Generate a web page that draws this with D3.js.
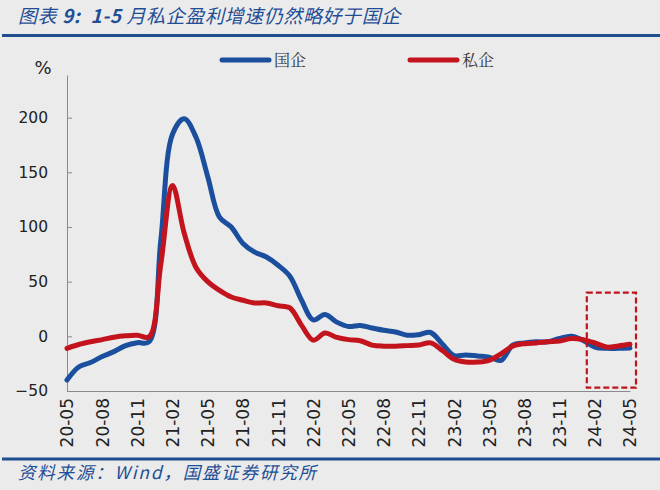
<!DOCTYPE html>
<html><head><meta charset="utf-8">
<script src="https://cdn.jsdelivr.net/npm/d3@7"></script>
<style>
html,body{margin:0;padding:0;background:#ebebeb;}
svg{display:block;}
text{white-space:pre;}
</style></head>
<body><svg id="c" width="660" height="490"></svg>
<script>
const months = ["20-05","20-06","20-07","20-08","20-09","20-10","20-11","20-12",
"21-01","21-02","21-03","21-04","21-05","21-06","21-07","21-08","21-09","21-10","21-11","21-12",
"22-01","22-02","22-03","22-04","22-05","22-06","22-07","22-08","22-09","22-10","22-11","22-12",
"23-01","23-02","23-03","23-04","23-05","23-06","23-07","23-08","23-09","23-10","23-11","23-12",
"24-01","24-02","24-03","24-04","24-05"];
const soe = [-40,-28,-24,-18.5,-14,-8.5,-5.8,-5,
 88,185,199,182,146,109,100,85,77,72.5,65,55,
 33,15,20,13,9,10,7.6,5.5,4,1,1.5,3.5,
 -7,-17.5,-17,-18,-19,-22,-8,-6,-5,-5,-2,0,
 -3.7,-9.8,-11,-11,-10.7];
const pvt = [-11,-7.5,-5,-3,-0.8,0.5,1,-0.5,
 66,138,94,63,50,42,36,33,30.5,30.5,28,26,
 10,-3.5,3,-1,-3,-4,-8,-9,-9,-8.5,-8,-6,
 -13,-21,-23.5,-23.5,-22,-16,-9,-6.7,-6,-5,-4.3,-2,
 -3,-6,-9.8,-8.8,-7.3];
const tickLabels = ["20-05","20-08","20-11","21-02","21-05","21-08","21-11","22-02","22-05","22-08","22-11","23-02","23-05","23-08","23-11","24-02","24-05"];
const yTicks = [-50,0,50,100,150,200];
const seriesNames = ["国企","私企"];
const highlight = ["24-02","24-05"];

const BLUE = "#1b4f9e", RED = "#c3141e", TXT = "#1f4e96";
const svg = d3.select("#c");

// title
svg.append("text").attr("x",18).attr("y",23)
  .attr("font-family","'Noto Sans CJK SC', sans-serif").attr("font-style","italic")
  .attr("font-size",19).attr("letter-spacing",0.6).attr("fill",TXT)
  .html('图表 <tspan font-weight="bold">9:</tspan>  <tspan font-weight="bold">1-5</tspan> 月私企盈利增速仍然略好于国企');
svg.append("line").attr("x1",2).attr("x2",660).attr("y1",35.5).attr("y2",35.5)
  .attr("stroke","#1f4e8f").attr("stroke-width",3);

const x = d3.scalePoint().domain(months).range([67,630]);
const y = d3.scaleLinear().domain([-50,239]).range([391,75]);

// y axis
const ya = svg.append("g").attr("transform","translate(67,0)")
  .call(d3.axisLeft(y).tickValues(yTicks).tickSize(-5).tickSizeOuter(0).tickPadding(19));
ya.select(".domain").attr("stroke","#8a8a8a");
ya.selectAll(".tick line").attr("stroke","#8a8a8a");
ya.selectAll("text").attr("font-family","'DejaVu Sans', sans-serif").attr("font-size",15.5).attr("fill","#222");
svg.append("text").attr("x",43).attr("y",74).attr("text-anchor","middle")
  .attr("font-family","'DejaVu Sans', sans-serif").attr("font-size",18).attr("fill","#222").text("%");

// x axis
const xa = svg.append("g").attr("transform","translate(0,391)")
  .call(d3.axisBottom(x).tickValues(tickLabels).tickSize(0).tickSizeOuter(0).tickPadding(0));
xa.select(".domain").attr("stroke","#8a8a8a");
xa.selectAll("text").attr("font-family","'DejaVu Sans', sans-serif").attr("font-size",17).attr("fill","#222")
  .attr("transform","rotate(-90)").attr("text-anchor","end").attr("x",-7).attr("y",0).attr("dy","0.35em");

// lines
const line = d3.line().x((d,i)=>x(months[i])).y(d=>y(d)).curve(d3.curveCatmullRom.alpha(0.5));
svg.append("path").datum(soe).attr("d",line).attr("fill","none").attr("stroke",BLUE)
  .attr("stroke-width",5).attr("stroke-linejoin","round").attr("stroke-linecap","round");
svg.append("path").datum(pvt).attr("d",line).attr("fill","none").attr("stroke",RED)
  .attr("stroke-width",5).attr("stroke-linejoin","round").attr("stroke-linecap","round");

// highlight box
const bx0 = x(highlight[0]) - 8, bx1 = x(highlight[1]) + 6;
svg.append("rect").attr("x",bx0).attr("y",y(40)).attr("width",bx1-bx0).attr("height",y(-47)-y(40))
  .attr("fill","none").attr("stroke","#c0141c").attr("stroke-width",2.2).attr("stroke-dasharray","6,3");

// legend
const lg = [{n:seriesNames[0],c:BLUE,x:222},{n:seriesNames[1],c:RED,x:410}];
lg.forEach(d=>{
  svg.append("line").attr("x1",d.x).attr("x2",d.x+47).attr("y1",60).attr("y2",60)
    .attr("stroke",d.c).attr("stroke-width",5).attr("stroke-linecap","round");
  svg.append("text").attr("x",d.x+52).attr("y",65.5).attr("font-family","'Noto Serif CJK SC', 'Noto Sans CJK SC', serif")
    .attr("font-size",16).attr("fill","#333").text(d.n);
});

// footer
svg.append("line").attr("x1",2).attr("x2",660).attr("y1",459).attr("y2",459)
  .attr("stroke","#1f4e8f").attr("stroke-width",3);
svg.append("text").attr("x",18).attr("y",479)
  .attr("font-family","'Noto Sans CJK SC', sans-serif").attr("font-style","italic")
  .attr("font-size",17.5).attr("letter-spacing",1.8).attr("fill",TXT).text("资料来源：Wind，国盛证券研究所");
</script></body></html>
